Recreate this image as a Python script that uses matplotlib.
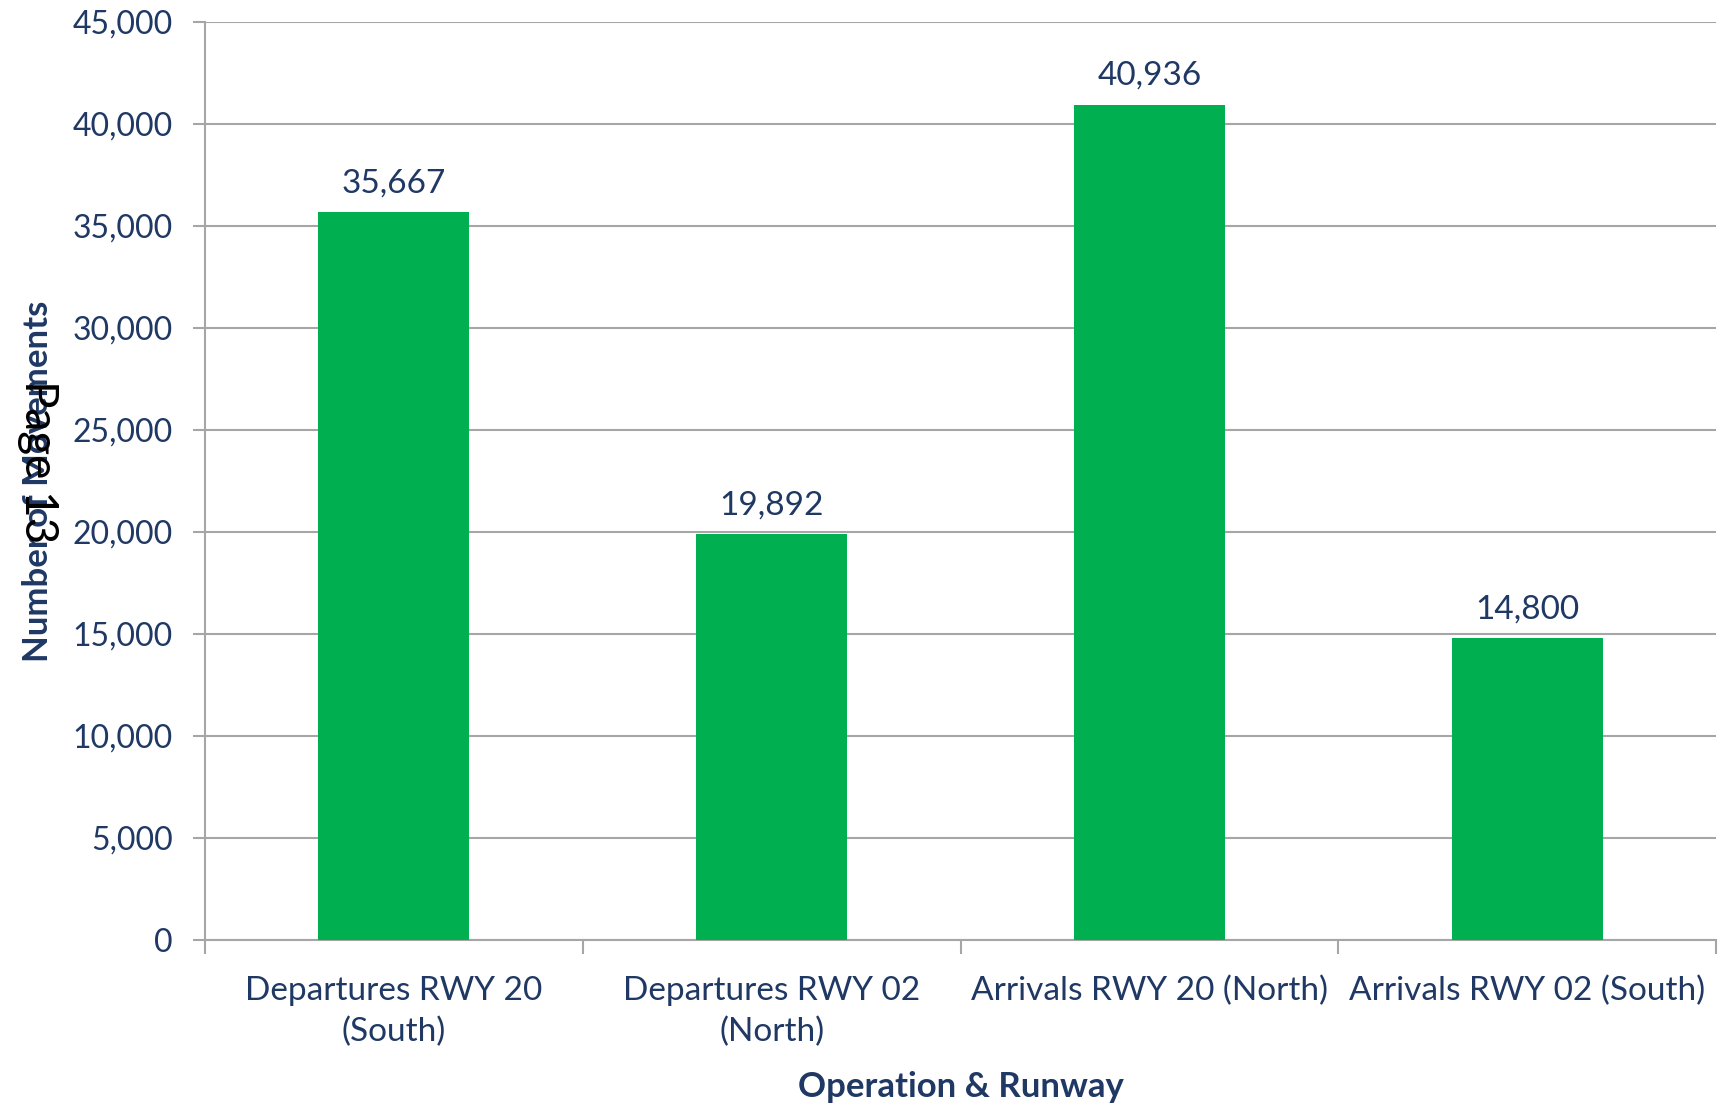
import matplotlib
matplotlib.use("Agg")
import matplotlib.pyplot as plt
from matplotlib.ticker import FuncFormatter, FixedLocator
import numpy as np

categories = ["Departures RWY 20\n(South)", "Departures RWY 02\n(North)",
              "Arrivals RWY 20 (North)", "Arrivals RWY 02 (South)"]
values = [35667, 19892, 40936, 14800]
y_ticks = [0, 5000, 10000, 15000, 20000, 25000, 30000, 35000, 40000, 45000]

navy = "#1F3864"
green = "#00B050"
grid_c = "#A6A6A6"

plt.rcParams['font.family'] = ['Lato', 'DejaVu Sans']

fig = plt.figure(figsize=(17.25, 11.05), dpi=100)
ax = fig.add_axes([205/1725, 1 - 940/1105, (1716-205)/1725, (940-22)/1105])

x = np.arange(len(categories))
ax.bar(x, values, width=0.4, color=green, zorder=3)
for xi, v in zip(x, values):
    ax.annotate(f"{v:,}", (xi, v), xytext=(0, 10), textcoords="offset points",
                ha="center", va="bottom", fontsize=24, color=navy)

ax.set_xlim(-0.5, len(categories) - 0.5)
ax.set_ylim(0, 45000)
ax.yaxis.set_major_locator(FixedLocator(y_ticks))
ax.yaxis.set_major_formatter(FuncFormatter(lambda v, p: f"{int(v):,}"))
ax.grid(axis="y", color=grid_c, linewidth=1.5, zorder=0)
ax.set_axisbelow(True)

ax.set_xticks(x)
ax.set_xticklabels(categories, fontsize=24, color=navy, linespacing=1.45)
ax.xaxis.set_minor_locator(FixedLocator(np.arange(-0.5, len(categories), 1.0)))
ax.tick_params(axis="x", which="major", length=0, pad=26)
ax.tick_params(axis="x", which="minor", length=10, width=1.5, color=grid_c)
ax.tick_params(axis="y", length=9, width=1.5, color=grid_c, labelsize=23,
               labelcolor=navy, pad=14)

for s in ["top", "right"]:
    ax.spines[s].set_visible(False)
for s in ["left", "bottom"]:
    ax.spines[s].set_color(grid_c)
    ax.spines[s].set_linewidth(1.5)

fig.text(0.5 * (205 + 1716) / 1725, 1 - 1087 / 1105, "Operation & Runway",
         ha="center", va="center", fontsize=25, fontweight="bold", color=navy)
fig.text(38 / 1725, 1 - 481 / 1105, "Number of Movements", rotation=90,
         ha="center", va="center", fontsize=25, fontweight="bold", color=navy)
fig.text(38 / 1725, 1 - 462 / 1105, "Page 13", rotation=-90,
         ha="center", va="center", fontsize=33, color="black")

fig.savefig("out.png", dpi=100)
